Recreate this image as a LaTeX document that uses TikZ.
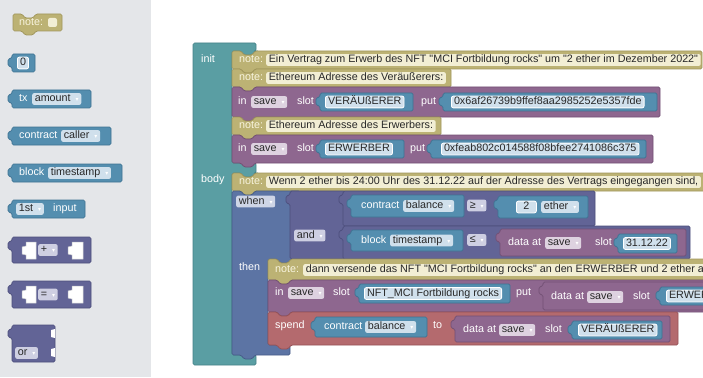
\documentclass[tikz,border=0pt]{standalone}
\usepackage{fontspec}
\setmainfont{Liberation Sans}
\newfontfamily\arrowfont{DejaVu Sans}
\newcommand\dd{\hspace{5pt}{\arrowfont\fontsize{6}{6}\selectfont\color{white}▾}}
\newcommand\q{\textquotedbl}
% statement block: notch on top, tab below
\newcommand\stmtblock[5]{%
  \path[#1] (#2,#3) -- ++(9,0) -- ++(3,4) -- ++(8,0) -- ++(3,-4) -- (#4,#3)
    -- (#4,#5) -- (#2+23,#5) -- ++(-3,4) -- ++(-8,0) -- ++(-3,-4) -- (#2,#5) -- cycle;}
% value block: output tab on the left
\newcommand\valblock[5]{%
  \path[#1] (#2,#3) -- (#4,#3) -- (#4,#5) -- (#2,#5) -- (#2,#3+13)
    -- ++(-4,-1) -- ++(0,-7) -- ++(4,-1) -- cycle;}
\tikzset{
  blk/.style={line width=0.7pt, rounded corners=1.5pt},
  noteblk/.style={blk, fill=noteFill, draw=noteLine},
  tealblk/.style={blk, fill=tealFill, draw=tealLine},
  whenblk/.style={blk, fill=whenFill, draw=whenLine},
  logicblk/.style={blk, fill=logicFill, draw=logicLine},
  procblk/.style={blk, fill=procFill, draw=procLine},
  valblk/.style={blk, fill=valFill, draw=valLine},
  spendblk/.style={blk, fill=spendFill, draw=spendLine},
  slotcut/.style={fill=white, draw=paletteLine, line width=0.5pt},
  lbl/.style={anchor=west, inner sep=0pt, text=white, text height=8pt, text depth=2.2pt,
    font=\fontsize{10.75}{13}\selectfont},
  notelbl/.style={lbl, text=noteText},
  fld/.style={anchor=west, inner xsep=2.6pt, inner ysep=0.8pt, text height=8pt, text depth=2.2pt,
    rounded corners=2pt, text=fieldText, font=\fontsize{10.75}{13}\selectfont},
  notefld/.style={fld, fill=noteFld},
  valfld/.style={fld, fill=valFld},
  txtfld/.style={fld, fill=valFld, draw=white, line width=0.8pt},
  procfld/.style={fld, fill=procFld},
  logicfld/.style={fld, fill=logicFld},
  whenfld/.style={fld, fill=whenFld},
}
\begin{document}
\begin{tikzpicture}[x=1pt,y=-1pt]
\definecolor{paletteFill}{RGB}{228,230,233}
\definecolor{paletteLine}{RGB}{200,202,206}
\definecolor{noteFill}{RGB}{188,178,116}
\definecolor{noteLine}{RGB}{160,150,92}
\definecolor{noteFld}{RGB}{242,238,212}
\definecolor{noteText}{RGB}{248,244,222}
\definecolor{tealFill}{RGB}{90,158,163}
\definecolor{tealLine}{RGB}{70,130,136}
\definecolor{whenFill}{RGB}{92,116,164}
\definecolor{whenLine}{RGB}{70,92,136}
\definecolor{whenFld}{RGB}{206,213,230}
\definecolor{logicFill}{RGB}{98,100,150}
\definecolor{logicLine}{RGB}{76,78,124}
\definecolor{logicFld}{RGB}{206,207,226}
\definecolor{procFill}{RGB}{142,103,143}
\definecolor{procLine}{RGB}{114,80,116}
\definecolor{procFld}{RGB}{222,210,224}
\definecolor{valFill}{RGB}{84,142,175}
\definecolor{valLine}{RGB}{62,114,146}
\definecolor{valFld}{RGB}{208,224,236}
\definecolor{spendFill}{RGB}{180,106,110}
\definecolor{spendLine}{RGB}{150,82,86}
\definecolor{fieldText}{RGB}{40,40,40}
\path[use as bounding box,fill=white] (0,0) rectangle (703,377);
\clip (0,0) rectangle (703,377);

% palette
\path[fill=paletteFill] (0,0) rectangle (151,377);
\stmtblock{noteblk}{13}{14}{62}{31}
\node[notelbl] (pNote) at (19,22.5) {note:};
\path[fill=noteFld, rounded corners=2pt] (48,18) rectangle (57,27);
\valblock{valblk}{12}{54}{35}{72}
\node[txtfld] (pZero) at (17,63) {0};
\valblock{valblk}{12}{90}{91}{108}
\node[lbl] (pTx) at (19,99) {tx};
\node[valfld] (pAmount) at (32,99) {amount\dd};
\valblock{valblk}{12}{127}{111}{145}
\node[lbl] (pContract) at (19,136) {contract};
\node[valfld] (pCaller) at (61,136) {caller\dd};
\valblock{valblk}{12}{164}{122}{182}
\node[lbl] (pBlock) at (19,173) {block};
\node[valfld] (pTimestamp) at (48,173) {timestamp\dd};
\valblock{valblk}{12}{200}{85}{218}
\node[valfld] (pFirst) at (16,209) {1st\dd};
\node[lbl] (pInput) at (53,209) {input};
\valblock{logicblk}{12}{237}{91}{263}
\valblock{slotcut}{26}{242}{36}{259}
\node[logicfld] (pPlus) at (38,250) {+\dd};
\valblock{slotcut}{72}{242}{83}{259}
\valblock{logicblk}{12}{281}{91}{308}
\valblock{slotcut}{26}{286}{36}{303}
\node[logicfld] (pEq) at (38,294.5) {=\dd};
\valblock{slotcut}{72}{286}{83}{303}
\valblock{logicblk}{12}{325}{55}{362}
\path[fill=white] (55,329) -- (51,330) -- (51,337) -- (55,338) -- cycle;
\path[fill=white] (55,348) -- (51,349) -- (51,356) -- (55,357) -- cycle;
\node[logicfld] (pOr) at (15,353) {or\dd};

% init / body
\path[tealblk] (193,43) -- (256,43) -- (256,51) -- (255,51) -- ++(-3,4) -- ++(-8,0) -- ++(-3,-4)
  -- (232,51) -- (232,163) -- (256,163) -- (256,173) -- (255,173) -- ++(-3,4) -- ++(-8,0)
  -- ++(-3,-4) -- (232,173) -- (232,355) -- (256,355) -- (256,365) -- (193,365) -- cycle;
\node[lbl] (init) at (201,60) {init};
\node[lbl] (body) at (201,180) {body};

\stmtblock{noteblk}{232}{51}{702}{69}
\node[notelbl] (n1) at (239,60) {note:};
\node[notefld] (n1f) at (266,60) {Ein Vertrag zum Erwerb des NFT \q MCI Fortbildung rocks\q{} um \q 2 ether im Dezember 2022\q};
\stmtblock{noteblk}{232}{69}{451}{87}
\node[notelbl] (n2) at (239,78) {note:};
\node[notefld] (n2f) at (266,78) {Ethereum Adresse des Veräußerers:};
\stmtblock{procblk}{232}{87}{660}{117}
\node[lbl] (s1in) at (238,102) {in};
\node[procfld] (s1save) at (251,102) {save\dd};
\node[lbl] (s1slot) at (297,102) {slot};
\valblock{valblk}{320}{93}{413}{111}
\node[txtfld] (s1key) at (325,102) {VERÄUßERER};
\node[lbl] (s1put) at (421,102) {put};
\valblock{valblk}{443}{93}{657}{111}
\node[txtfld] (s1val) at (451,102) {0x6af26739b9ffef8aa2985252e5357fde};
\stmtblock{noteblk}{232}{117}{441}{135}
\node[notelbl] (n3) at (239,126) {note:};
\node[notefld] (n3f) at (266,126) {Ethereum Adresse des Erwerbers:};
\stmtblock{procblk}{232}{135}{653}{163}
\node[lbl] (s2in) at (238,149) {in};
\node[procfld] (s2save) at (251,149) {save\dd};
\node[lbl] (s2slot) at (297,149) {slot};
\valblock{valblk}{320}{140}{404}{158}
\node[txtfld] (s2key) at (325,149) {ERWERBER};
\node[lbl] (s2put) at (410,149) {put};
\valblock{valblk}{431}{140}{646}{158}
\node[txtfld] (s2val) at (441,149) {0xfeab802c014588f08bfee2741086c375};

\stmtblock{noteblk}{232}{173}{720}{191}
\node[notelbl] (n4) at (239,182) {note:};
\node[notefld] (n4f) at (266,182) {Wenn 2 ether bis 24:00 Uhr des 31.12.22 auf der Adresse des Vertrags eingegangen sind,};

% when / then
\path[whenblk] (232,191) -- (241,191) -- ++(3,4) -- ++(8,0) -- ++(3,-4) -- (300,191) -- (300,259)
  -- (291,259) -- ++(-3,4) -- ++(-8,0) -- ++(-3,-4) -- (268,259) -- (268,345) -- (290,345)
  -- (290,355) -- (255,355) -- ++(-3,4) -- ++(-8,0) -- ++(-3,-4) -- (232,355) -- cycle;
\node[whenfld] (when) at (236,201.5) {when\dd};
\node[lbl] (then) at (239,268) {then};
\valblock{logicblk}{290}{191}{345}{259}
\node[logicfld] (and) at (294,235.5) {and\dd};
\valblock{logicblk}{343}{191}{595}{226}
\valblock{valblk}{351}{195}{464}{217}
\node[lbl] (c1a) at (361,206) {contract};
\node[valfld] (c1b) at (403,206) {balance\dd};
\node[logicfld] (ge) at (467,205.5) {≥\dd};
\valblock{valblk}{498}{196}{588}{218}
\node[txtfld, minimum width=20pt] (two) at (516,207) {2};
\node[valfld] (ether) at (541,207) {ether\dd};
\valblock{logicblk}{343}{226}{690}{259}
\valblock{valblk}{351}{230}{463}{251}
\node[lbl] (c2a) at (361,240.5) {block};
\node[valfld] (c2b) at (390,240.5) {timestamp\dd};
\node[logicfld] (le) at (467,240) {≤\dd};
\valblock{procblk}{500}{229}{686}{256}
\node[lbl] (d1a) at (508,243) {data at};
\node[procfld] (d1save) at (545,243) {save\dd};
\node[lbl] (d1slot) at (595,243) {slot};
\valblock{valblk}{618}{234}{677}{253}
\node[txtfld] (date) at (623,243.5) {31.12.22};

\stmtblock{noteblk}{268}{259}{720}{280}
\node[notelbl] (n5) at (275,270) {note:};
\node[notefld] (n5f) at (303,270) {dann versende das NFT \q MCI Fortbildung rocks\q{} an den ERWERBER und 2 ether an};
\stmtblock{procblk}{268}{280}{720}{312}
\node[lbl] (s3in) at (275,293) {in};
\node[procfld] (s3save) at (288,293) {save\dd};
\node[lbl] (s3slot) at (333,293) {slot};
\valblock{valblk}{359}{284}{510}{303}
\node[txtfld] (s3key) at (364,293.5) {NFT\_MCI Fortbildung rocks};
\node[lbl] (s3put) at (516,293) {put};
\valblock{procblk}{543}{282}{740}{310}
\node[lbl] (d2a) at (551,297) {data at};
\node[procfld] (d2save) at (587,297) {save\dd};
\node[lbl] (d2slot) at (633,297) {slot};
\valblock{valblk}{660}{287}{740}{305}
\node[txtfld] (d2key) at (666,296) {ERWERBER};

\stmtblock{spendblk}{268}{312}{678}{345}
\node[lbl] (spend) at (275,326) {spend};
\valblock{valblk}{315}{317}{427}{337}
\node[lbl] (c3a) at (324,327) {contract};
\node[valfld] (c3b) at (365,327) {balance\dd};
\node[lbl] (to) at (433,326) {to};
\valblock{procblk}{455}{316}{670}{342}
\node[lbl] (d3a) at (463,330) {data at};
\node[procfld] (d3save) at (499,330) {save\dd};
\node[lbl] (d3slot) at (545,330) {slot};
\valblock{valblk}{572}{321}{662}{339}
\node[txtfld] (d3key) at (578,330) {VERÄUßERER};
\end{tikzpicture}
\end{document}
